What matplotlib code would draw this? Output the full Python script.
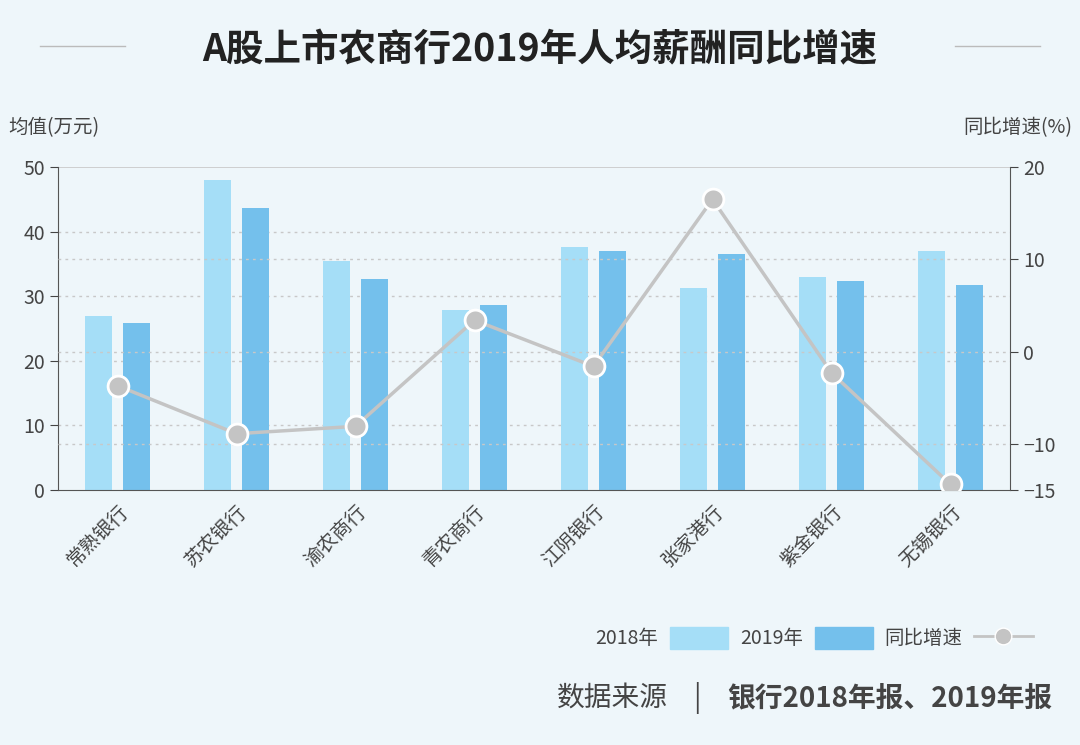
import numpy as np
import matplotlib.pyplot as plt
from matplotlib.lines import Line2D
from matplotlib.patches import Patch

plt.rcParams['font.family'] = ['Noto Sans CJK SC', 'DejaVu Sans']

banks = ["常熟银行", "苏农银行", "渝农商行", "青农商行", "江阴银行", "张家港行", "紫金银行", "无锡银行"]
pay_2018 = [27.0, 48.0, 35.5, 27.8, 37.6, 31.3, 33.0, 37.0]
pay_2019 = [25.9, 43.7, 32.7, 28.7, 37.0, 36.5, 32.3, 31.7]
growth = [-3.7, -8.9, -8.1, 3.4, -1.6, 16.5, -2.3, -14.4]

bg = "#eef6fa"
c18 = "#a5def7"
c19 = "#74c0ec"
cl = "#c4c4c4"

fig = plt.figure(figsize=(10.8, 7.45), dpi=100, facecolor=bg)
ax = fig.add_axes([58 / 1080, 1 - 490 / 745, 952 / 1080, 323 / 745])
ax.set_facecolor(bg)
x = np.arange(len(banks))
w = 0.23
ax.bar(x - 0.16, pay_2018, w, color=c18, zorder=2)
ax.bar(x + 0.16, pay_2019, w, color=c19, zorder=2)
ax.set_xlim(-0.5, len(banks) - 0.5)
ax.set_ylim(0, 50)
ax.set_yticks([0, 10, 20, 30, 40, 50])
for v in [10, 20, 30, 40]:
    ax.axhline(v, color="#c8c8c8", ls=(0, (2, 3)), lw=1, zorder=1)
ax.axhline(50, color="#c8c8c8", lw=1.2, zorder=1)
ax.set_xticks(x)
ax.set_xticklabels(banks, rotation=45, ha="right", rotation_mode="anchor", fontsize=14, color="#444")
ax.tick_params(axis="y", labelsize=14, colors="#444", length=6)
ax.tick_params(axis="x", length=0, pad=8)
for s in ["top", "right"]:
    ax.spines[s].set_visible(False)
ax.spines["left"].set_color("#555")
ax.spines["bottom"].set_color("#555")

ax2 = ax.twinx()
ax2.set_ylim(-15, 20)
ax2.set_yticks([-15, -10, 0, 10, 20])
for v in [-10, 0, 10]:
    ax2.axhline(v, color="#c8c8c8", ls=(0, (2, 3)), lw=1, zorder=1)
ax2.plot(x, growth, color=cl, lw=2.5, marker="o", ms=15, mfc=cl, mec="white", mew=2, zorder=3)
ax2.tick_params(axis="y", labelsize=14, colors="#444", length=6)
for s in ["top", "left", "bottom"]:
    ax2.spines[s].set_visible(False)
ax2.spines["right"].set_color("#555")

fig.text(0.5, 1 - 50 / 745, "A股上市农商行2019年人均薪酬同比增速", ha="center", va="center",
         fontsize=27, fontweight="bold", color="#222")
fig.add_artist(Line2D([40 / 1080, 125 / 1080], [1 - 46 / 745] * 2, color="#bbb", lw=1))
fig.add_artist(Line2D([955 / 1080, 1040 / 1080], [1 - 46 / 745] * 2, color="#bbb", lw=1))
fig.text(8 / 1080, 1 - 128 / 745, "均值(万元)", ha="left", va="center", fontsize=14, color="#444")
fig.text(1072 / 1080, 1 - 128 / 745, "同比增速(%)", ha="right", va="center", fontsize=14, color="#444")

handles = [Patch(color=c18), Patch(color=c19),
           Line2D([], [], color=cl, lw=2, marker="o", ms=12, mfc=cl, mec="white")]
fig.legend(handles, ["2018年", "2019年", "同比增速"], loc="center right",
           bbox_to_anchor=(1050 / 1080, 1 - 638 / 745), ncol=3, frameon=False, fontsize=14,
           markerfirst=False, handlelength=3.0, handleheight=1.4, columnspacing=0.6,
           handletextpad=0.6, labelcolor="#444")
fig.text(557 / 1080, 1 - 698 / 745, "数据来源", ha="left", va="center", fontsize=20, color="#444")
fig.text(697 / 1080, 1 - 698 / 745, "|", ha="center", va="center", fontsize=20, color="#444")
fig.text(1052 / 1080, 1 - 698 / 745, "银行2018年报、2019年报", ha="right", va="center",
         fontsize=20, fontweight="bold", color="#444")
fig.savefig("out.png", dpi=100, facecolor=bg)
